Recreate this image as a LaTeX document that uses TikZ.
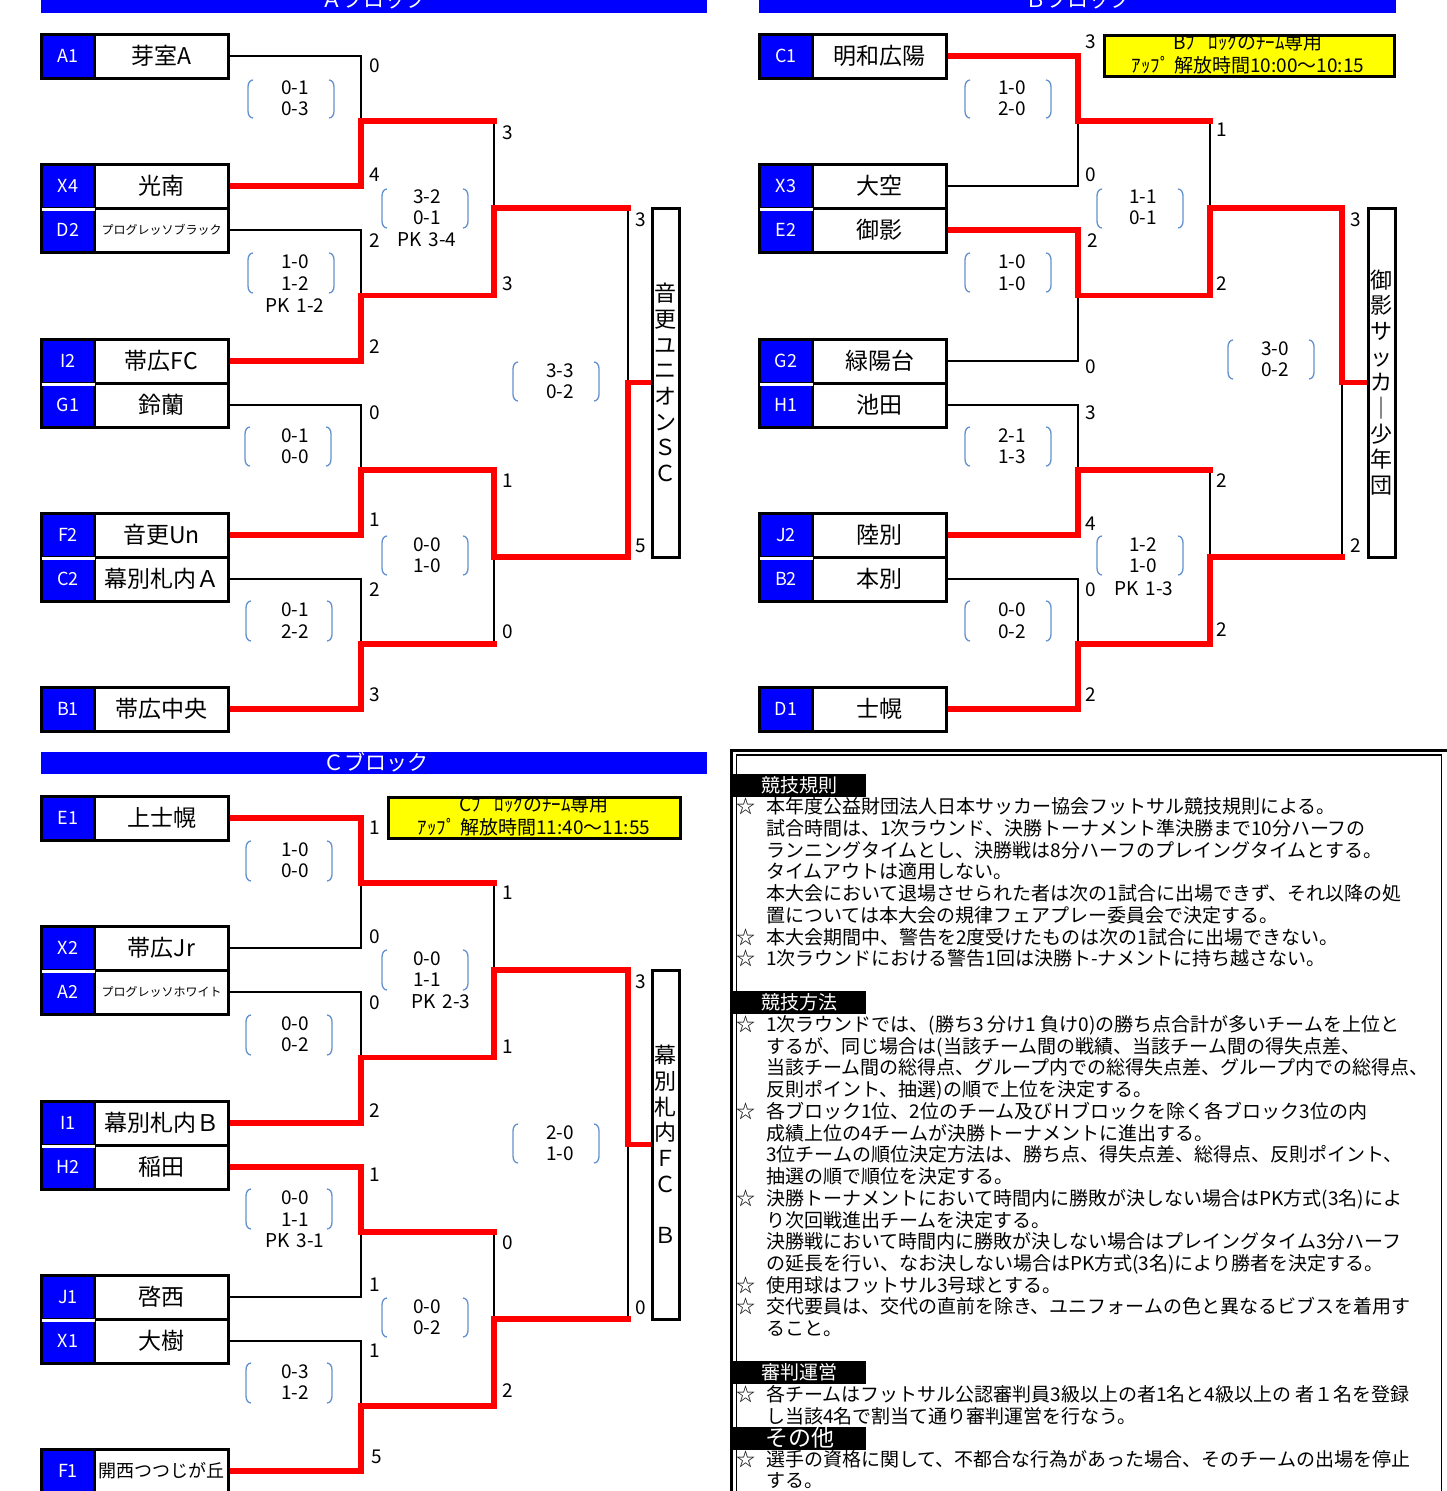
\documentclass[tikz,border=0pt]{standalone}
\usepackage{fontspec}
\setmainfont{Noto Sans CJK JP}
\usetikzlibrary{calc,backgrounds}
\definecolor{pblue}{RGB}{0,0,255}
\definecolor{pred}{RGB}{255,0,0}
\definecolor{pyel}{RGB}{255,255,0}
\definecolor{pbr}{RGB}{100,145,205}
\newcommand\fsz[1]{\fontsize{#1}{#1}\selectfont}
\newcommand\pkx[1]{PK\hspace{7pt}#1}
\newcommand\team[5]{%
  \node[idc] (i#1) at (#2+68,#3) {#4};
  \node[nmc] (t#1) at (#2+161.5,#3) {#5};}
\newcommand\sepw[1]{\draw[white,line width=3pt] ([xshift=1.5pt]i#1.south west) -- ([xshift=-1.5pt]i#1.south east);}
\newcommand\scn[4]{\node[sc] (#1) at (#2,#3) {#4};}
\newcommand\prn[4]{\node[sc] (#1) at (#2,#3) {#4};}
\newcommand\brkt[3]{%
  \draw[par] (#1-38,#2) .. controls (#1-41,#2) and (#1-43,#2+3) .. (#1-43,#2+7) -- (#1-43,#3-7) .. controls (#1-43,#3-3) and (#1-41,#3) .. (#1-38,#3);
  \draw[par] (#1+38,#2) .. controls (#1+41,#2) and (#1+43,#2+3) .. (#1+43,#2+7) -- (#1+43,#3-7) .. controls (#1+43,#3-3) and (#1+41,#3) .. (#1+38,#3);}
\newcommand\rln[3]{\node[rl] (#1) at (766,#2+7) {#3};}
\newcommand\rst[2]{\node[rl] (#1) at (736,#2+7) {☆};}
\begin{document}
\begin{tikzpicture}[x=1pt,y=-1pt,
  idc/.style={fill=pblue,draw=black,line width=3pt,minimum width=53pt,minimum height=44pt,inner sep=0pt,text=white,font=\fsz{18}},
  nmc/.style={fill=white,draw=black,line width=3pt,minimum width=134pt,minimum height=44pt,inner sep=0pt,font=\fsz{23}},
  win/.style={draw=pred,line width=5.5pt,line cap=rect},
  lose/.style={draw=black,line width=2.5pt,line cap=rect},
  sc/.style={font=\fsz{19},inner sep=0pt},
  par/.style={draw=pbr,line width=1.3pt},
  wbox/.style={fill=white,draw=black,line width=3pt,minimum width=27pt,minimum height=349pt,inner sep=0pt,font=\fontsize{22}{25.7}\selectfont,align=center},
  hbar/.style={fill=pblue,draw=none,minimum width=666pt,inner sep=0pt},
  htx/.style={text=white,font=\fsz{21},inner sep=0pt},
  ybox/.style={fill=pyel,draw=black,line width=3pt,minimum width=290pt,minimum height=41pt,inner sep=0pt},
  ytx/.style={font=\fsz{19},inner sep=0pt},
  sech/.style={fill=black,text=white,minimum width=133pt,minimum height=23pt,inner sep=0pt,font=\fsz{19}},
  rl/.style={anchor=base west,inner sep=0pt,font=\fsz{19}}]
\useasboundingbox (0,0) rectangle (1446,1491);

% ---------- header bars
\node[hbar,minimum height=18pt] (hA) at (374,4) {};
\node[htx] (hAt) at (374,-1) {Ａブロック};
\node[hbar,minimum width=637pt,minimum height=18pt] (hB) at (1077.5,4) {};
\node[htx] (hBt) at (1078,-1) {Ｂブロック};
\node[hbar,minimum height=22pt] (hC) at (374,763) {};
\node[htx] (hCt) at (376,762) {Ｃブロック};

% ---------- teams block A
\team{A1}{0}{56}{A1}{芽室A}
\team{X4}{0}{186}{X4}{光南}
\team{D2}{0}{230}{D2}{\fsz{12}プログレッソブラック}
\team{I2}{0}{361}{I2}{帯広FC}
\team{G1}{0}{405}{G1}{鈴蘭}
\team{F2}{0}{535}{F2}{音更Un}
\team{C2}{0}{579}{C2}{幕別札内Ａ}
\team{B1}{0}{709}{B1}{帯広中央}
% block B
\team{C1}{718}{56}{C1}{明和広陽}
\team{X3}{718}{186}{X3}{大空}
\team{E2}{718}{230}{E2}{御影}
\team{G2}{718}{361}{G2}{緑陽台}
\team{H1}{718}{405}{H1}{池田}
\team{J2}{718}{535}{J2}{陸別}
\team{B2}{718}{579}{B2}{本別}
\team{D1}{718}{709}{D1}{士幌}
% block C
\team{E1}{0}{818}{E1}{上士幌}
\team{X2}{0}{948}{X2}{帯広Jr}
\team{A2}{0}{992}{A2}{\fsz{12}プログレッソホワイト}
\team{I1}{0}{1123}{I1}{幕別札内Ｂ}
\team{H2}{0}{1167}{H2}{稲田}
\team{J1}{0}{1297}{J1}{啓西}
\team{X1}{0}{1341}{X1}{大樹}
\team{F1}{0}{1471}{F1}{\fsz{18}開西つつじが丘}
\sepw{X4}\sepw{I2}\sepw{F2}\sepw{X3}\sepw{G2}\sepw{J2}\sepw{X2}\sepw{I1}\sepw{J1}

% ---------- winner boxes
\node[wbox] (wA) at (665.5,382.5) {音\\更\\ユ\\ニ\\オ\\ン\\Ｓ\\Ｃ};
\node[wbox] (wB) at (1381.5,382.5) {御\\影\\サ\\ッ\\カ\\｜\\少\\年\\団};
\node[wbox] (wC) at (665.5,1144.5) {幕\\別\\札\\内\\Ｆ\\Ｃ\\\mbox{}\\Ｂ};

% ---------- junctions
\coordinate (jA1) at (361,121);  \coordinate (rA1) at (494,121);
\coordinate (jA2) at (361,295.5);\coordinate (rA2) at (494,295.5);
\coordinate (jA3) at (361,470);  \coordinate (rA3) at (494,470);
\coordinate (jA4) at (361,644);  \coordinate (rA4) at (494,644);
\coordinate (qA1) at (494,208);  \coordinate (sA1) at (628,208);
\coordinate (qA2) at (494,557);  \coordinate (sA2) at (628,557);
\coordinate (fA) at (628,382.5);
\coordinate (jB1) at (1078,121);  \coordinate (rB1) at (1210,121);
\coordinate (jB2) at (1078,295.5);\coordinate (rB2) at (1210,295.5);
\coordinate (jB3) at (1078,470);  \coordinate (rB3) at (1210,470);
\coordinate (jB4) at (1078,644);  \coordinate (rB4) at (1210,644);
\coordinate (qB1) at (1210,208);  \coordinate (sB1) at (1342,208);
\coordinate (qB2) at (1210,557);  \coordinate (sB2) at (1342,557);
\coordinate (fB) at (1342,382.5);
\coordinate (jC1) at (361,883);   \coordinate (rC1) at (494,883);
\coordinate (jC2) at (361,1057.5);\coordinate (rC2) at (494,1057.5);
\coordinate (jC3) at (361,1232);  \coordinate (rC3) at (494,1232);
\coordinate (jC4) at (361,1406);  \coordinate (rC4) at (494,1406);
\coordinate (qC1) at (494,970);   \coordinate (sC1) at (628,970);
\coordinate (qC2) at (494,1319);  \coordinate (sC2) at (628,1319);
\coordinate (fC) at (628,1144.5);

\begin{pgfonlayer}{background}
\fill[white] (0,0) rectangle (1446,1491);
% block A
\draw[lose] (tA1.east) -| (jA1);
\draw[lose] (tD2.east) -| (jA2);
\draw[lose] (tG1.east) -| (jA3);
\draw[lose] (tC2.east) -| (jA4);
\draw[lose] (rA1) -- (qA1);
\draw[lose] (rA4) -- (qA2);
\draw[lose] (sA1) -- (fA);
\draw[win] (tX4.east) -| (jA1) -- (rA1);
\draw[win] (tI2.east) -| (jA2) -- (rA2) -- (qA1) -- (sA1);
\draw[win] (tB1.east) -| (jA4) -- (rA4);
\draw[win] (tF2.east) -| (jA3) -- (rA3) -- (qA2) -- (sA2) -- (fA) -- (fA -| wA.west);
% block B
\draw[lose] (tX3.east) -| (jB1);
\draw[lose] (tG2.east) -| (jB2);
\draw[lose] (tH1.east) -| (jB3);
\draw[lose] (tB2.east) -| (jB4);
\draw[lose] (rB1) -- (qB1);
\draw[lose] (rB3) -- (qB2);
\draw[lose] (sB2) -- (fB);
\draw[win] (tC1.east) -| (jB1) -- (rB1);
\draw[win] (tJ2.east) -| (jB3) -- (rB3);
\draw[win] (tD1.east) -| (jB4) -- (rB4) -- (qB2) -- (sB2);
\draw[win] (tE2.east) -| (jB2) -- (rB2) -- (qB1) -- (sB1) -- (fB) -- (fB -| wB.west);
% block C
\draw[lose] (tX2.east) -| (jC1);
\draw[lose] (tA2.east) -| (jC2);
\draw[lose] (tJ1.east) -| (jC3);
\draw[lose] (tX1.east) -| (jC4);
\draw[lose] (rC1) -- (qC1);
\draw[lose] (rC3) -- (qC2);
\draw[lose] (sC2) -- (fC);
\draw[win] (tE1.east) -| (jC1) -- (rC1);
\draw[win] (tH2.east) -| (jC3) -- (rC3);
\draw[win] (tF1.east) -| (jC4) -- (rC4) -- (qC2) -- (sC2);
\draw[win] (tI1.east) -| (jC2) -- (rC2) -- (qC1) -- (sC1) -- (fC) -- (fC -| wC.west);
\end{pgfonlayer}

% ---------- scores A
\scn{sa1}{375}{66}{0}\scn{sa2}{375}{175}{4}\scn{sa3}{375}{241}{2}\scn{sa4}{375}{347}{2}
\scn{sa5}{375}{413}{0}\scn{sa6}{375}{520}{1}\scn{sa7}{375}{590}{2}\scn{sa8}{375}{695}{3}
\scn{sa9}{508}{133}{3}\scn{sa10}{508}{284}{3}\scn{sa11}{508}{481}{1}\scn{sa12}{508}{632}{0}
\scn{sa13}{641}{220}{3}\scn{sa14}{641}{546}{5}
% scores B
\scn{sb1}{1091}{42}{3}\scn{sb2}{1091}{175}{0}\scn{sb3}{1093}{241}{2}\scn{sb4}{1091}{367}{0}
\scn{sb5}{1091}{413}{3}\scn{sb6}{1091}{524}{4}\scn{sb7}{1091}{590}{0}\scn{sb8}{1091}{695}{2}
\scn{sb9}{1222}{130}{1}\scn{sb10}{1222}{284}{2}\scn{sb11}{1222}{481}{2}\scn{sb12}{1222}{630}{2}
\scn{sb13}{1356}{220}{3}\scn{sb14}{1356}{546}{2}
% scores C
\scn{sc1}{375}{828}{1}\scn{sc2}{375}{937}{0}\scn{sc3}{375}{1003}{0}\scn{sc4}{375}{1111}{2}
\scn{sc5}{375}{1175}{1}\scn{sc6}{375}{1285}{1}\scn{sc7}{375}{1351}{1}\scn{sc8}{377}{1457}{5}
\scn{sc9}{508}{893}{1}\scn{sc10}{508}{1047}{1}\scn{sc11}{508}{1243}{0}\scn{sc12}{508}{1391}{2}
\scn{sc13}{641}{982}{3}\scn{sc14}{641}{1308}{0}

% ---------- match details A
\prn{pa1a}{295}{88}{0-1}\prn{pa1b}{295}{109}{0-3}\brkt{291}{80}{118}
\prn{pa2a}{295}{262}{1-0}\prn{pa2b}{295}{284}{1-2}\prn{pa2c}{295}{306}{\pkx{1-2}}\brkt{291}{253}{293}
\prn{pa3a}{427}{197}{3-2}\prn{pa3b}{427}{218}{0-1}\prn{pa3c}{427}{240}{\pkx{3-4}}\brkt{425}{189}{228}
\prn{pa4a}{295}{436}{0-1}\prn{pa4b}{295}{457}{0-0}\brkt{288}{427}{466}
\prn{pa5a}{427}{545}{0-0}\prn{pa5b}{427}{566}{1-0}\brkt{425}{536}{575}
\prn{pa6a}{295}{610}{0-1}\prn{pa6b}{295}{632}{2-2}\brkt{289}{601}{641}
\prn{pa7a}{560}{371}{3-3}\prn{pa7b}{560}{392}{0-2}\brkt{556}{362}{401}
% B
\prn{pb1a}{1012}{88}{1-0}\prn{pb1b}{1012}{109}{2-0}\brkt{1008}{80}{118}
\prn{pb2a}{1012}{262}{1-0}\prn{pb2b}{1012}{284}{1-0}\brkt{1008}{253}{292}
\prn{pb3a}{1143}{197}{1-1}\prn{pb3b}{1143}{218}{0-1}\brkt{1140}{189}{228}
\prn{pb4a}{1012}{436}{2-1}\prn{pb4b}{1012}{457}{1-3}\brkt{1008}{427}{466}
\prn{pb5a}{1143}{545}{1-2}\prn{pb5b}{1143}{566}{1-0}\prn{pb5c}{1144}{589}{\pkx{1-3}}\brkt{1140}{536}{575}
\prn{pb6a}{1012}{610}{0-0}\prn{pb6b}{1012}{632}{0-2}\brkt{1008}{601}{641}
\prn{pb7a}{1275}{349}{3-0}\prn{pb7b}{1275}{370}{0-2}\brkt{1271}{340}{379}
% C
\prn{pc1a}{295}{850}{1-0}\prn{pc1b}{295}{871}{0-0}\brkt{289}{841}{881}
\prn{pc2a}{427}{959}{0-0}\prn{pc2b}{427}{980}{1-1}\prn{pc2c}{441}{1002}{\pkx{2-3}}\brkt{425}{950}{990}
\prn{pc3a}{295}{1024}{0-0}\prn{pc3b}{295}{1045}{0-2}\brkt{289}{1015}{1055}
\prn{pc4a}{295}{1198}{0-0}\prn{pc4b}{295}{1220}{1-1}\prn{pc4c}{295}{1241}{\pkx{3-1}}\brkt{289}{1189}{1229}
\prn{pc5a}{427}{1307}{0-0}\prn{pc5b}{427}{1328}{0-2}\brkt{425}{1298}{1337}
\prn{pc6a}{295}{1372}{0-3}\prn{pc6b}{295}{1393}{1-2}\brkt{289}{1363}{1403}
\prn{pc7a}{560}{1133}{2-0}\prn{pc7b}{560}{1154}{1-0}\brkt{556}{1124}{1163}

% ---------- yellow notes
\node[ybox] (yB) at (1249,56) {};
\begin{scope}
\clip ([shift={(1.5pt,-1.5pt)}]yB.north west) rectangle ([shift={(-1.5pt,1.5pt)}]yB.south east);
\node[ytx] (yB1) at (1248,42) {Bﾌﾞ ﾛｯｸのﾁｰﾑ専用};
\node[ytx] (yB2) at (1248,65) {ｱｯﾌﾟ 解放時間10:00～10:15};
\end{scope}
\node[ybox,minimum width=292pt] (yC) at (534,818) {};
\begin{scope}
\clip ([shift={(1.5pt,-1.5pt)}]yC.north west) rectangle ([shift={(-1.5pt,1.5pt)}]yC.south east);
\node[ytx] (yC1) at (534,804) {Cﾌﾞ ﾛｯｸのﾁｰﾑ専用};
\node[ytx] (yC2) at (534,827) {ｱｯﾌﾟ 解放時間11:40～11:55};
\end{scope}

% ---------- rules box
\draw[line width=3pt] (731.5,1500) -- (731.5,750.5) -- (1452,750.5);
\draw[line width=1.2pt] (736.5,1500) -- (736.5,755) -- (1441.5,755) -- (1441.5,1500);
\node[sech] (hR1) at (799.5,785) {競技規則};
\node[sech] (hR2) at (799.5,1002) {競技方法};
\node[sech] (hR3) at (799.5,1372) {審判運営};
\node[sech,font=\fsz{23}] (hR4) at (799.5,1438) {その他};

\rst{st1}{806}\rln{rl1}{806}{本年度公益財団法人日本サッカー協会フットサル競技規則による。}
\rln{rl2}{828}{試合時間は、1次ラウンド、決勝トーナメント準決勝まで10分ハーフの}
\rln{rl3}{850}{ランニングタイムとし、決勝戦は8分ハーフのプレイングタイムとする。}
\rln{rl4}{871}{タイムアウトは適用しない。}
\rln{rl5}{893}{本大会において退場させられた者は次の1試合に出場できず、それ以降の処}
\rln{rl6}{915}{置については本大会の規律フェアプレー委員会で決定する。}
\rst{st7}{937}\rln{rl7}{937}{本大会期間中、警告を2度受けたものは次の1試合に出場できない。}
\rst{st8}{958}\rln{rl8}{958}{1次ラウンドにおける警告1回は決勝ト-ナメントに持ち越さない。}
\rst{st9}{1024}\rln{rl9}{1024}{1次ラウンドでは、(勝ち3 分け1 負け0)の勝ち点合計が多いチームを上位と}
\rln{rl10}{1046}{するが、同じ場合は(当該チーム間の戦績、当該チーム間の得失点差、}
\rln{rl11}{1067}{当該チーム間の総得点、グループ内での総得失点差、グループ内での総得点、}
\rln{rl12}{1089}{反則ポイント、抽選)の順で上位を決定する。}
\rst{st13}{1111}\rln{rl13}{1111}{各ブロック1位、2位のチーム及びＨブロックを除く各ブロック3位の内}
\rln{rl14}{1133}{成績上位の4チームが決勝トーナメントに進出する。}
\rln{rl15}{1154}{3位チームの順位決定方法は、勝ち点、得失点差、総得点、反則ポイント、}
\rln{rl16}{1176}{抽選の順で順位を決定する。}
\rst{st17}{1198}\rln{rl17}{1198}{決勝トーナメントにおいて時間内に勝敗が決しない場合はPK方式(3名)によ}
\rln{rl18}{1220}{り次回戦進出チームを決定する。}
\rln{rl19}{1241}{決勝戦において時間内に勝敗が決しない場合はプレイングタイム3分ハーフ}
\rln{rl20}{1263}{の延長を行い、なお決しない場合はPK方式(3名)により勝者を決定する。}
\rst{st21}{1285}\rln{rl21}{1285}{使用球はフットサル3号球とする。}
\rst{st22}{1306}\rln{rl22}{1306}{交代要員は、交代の直前を除き、ユニフォームの色と異なるビブスを着用す}
\rln{rl23}{1328}{ること。}
\rst{st24}{1394}\rln{rl24}{1394}{各チームはフットサル公認審判員3級以上の者1名と4級以上の 者１名を登録}
\rln{rl25}{1416}{し当該4名で割当て通り審判運営を行なう。}
\rst{st26}{1459}\rln{rl26}{1459}{選手の資格に関して、不都合な行為があった場合、そのチームの出場を停止}
\rln{rl27}{1480}{する。}
\end{tikzpicture}
\end{document}
